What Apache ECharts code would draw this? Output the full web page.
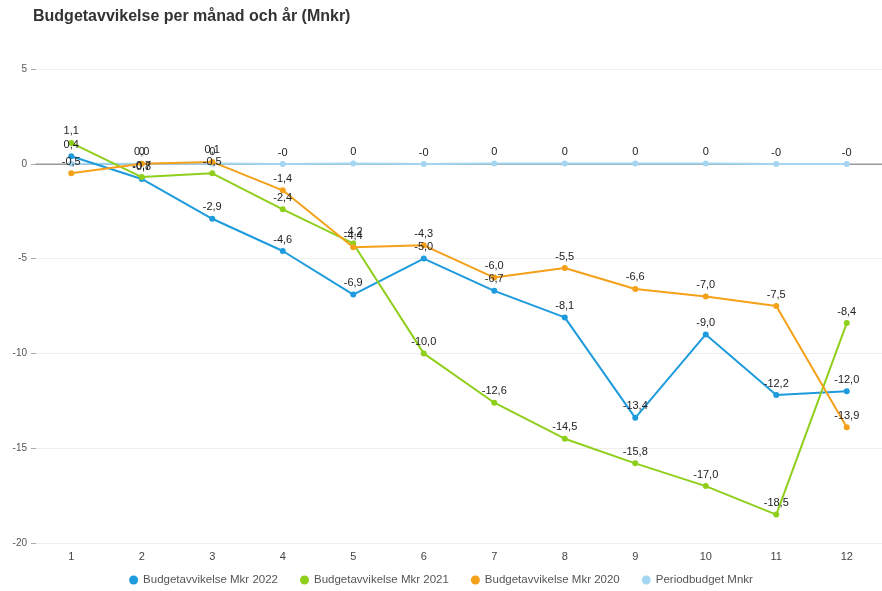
<!DOCTYPE html>
<html>
<head>
<meta charset="utf-8">
<script src="https://cdn.jsdelivr.net/npm/echarts@6/dist/echarts.min.js"></script>
<style>
html,body{margin:0;padding:0;background:#fff;}
#chart{width:882px;height:591px;}
</style>
</head>
<body>
<div id="chart"></div>
<script>
// Months
const months = ['1','2','3','4','5','6','7','8','9','10','11','12'];

// Budget deviation per month (Mkr)
const avvikelse2022 = [0.4, -0.8, -2.9, -4.6, -6.9, -5.0, -6.7, -8.1, -13.4, -9.0, -12.2, -12.0];
const avvikelse2021 = [1.1, -0.7, -0.5, -2.4, -4.2, -10.0, -12.6, -14.5, -15.8, -17.0, -18.5, -8.4];
const avvikelse2020 = [-0.5, 0.0, 0.1, -1.4, -4.4, -4.3, -6.0, -5.5, -6.6, -7.0, -7.5, -13.9];
const periodbudget = [0.0, 0.0, 0.01, -0.01, 0.01, -0.01, 0.01, 0.01, 0.01, 0.01, -0.01, -0.01];

// Value axis ticks
const yTicks = { min: -20, max: 5, interval: 5 };

const fmt1 = v => v.toFixed(1).replace('.', ',');
const fmt0 = v => v.toFixed(0);

function lineSeries(name, data, color, formatter, z) {
  return {
    name: name,
    type: 'line',
    data: data,
    symbol: 'circle',
    symbolSize: 6,
    z: z,
    lineStyle: { width: 2, color: color },
    itemStyle: { color: color },
    label: {
      show: true,
      position: 'top',
      distance: 3,
      color: '#222',
      fontSize: 11,
      fontFamily: 'Liberation Sans, Arial, sans-serif',
      formatter: p => (p.dataIndex === 0 && formatter === fmt0) ? '' : formatter(p.value)
    }
  };
}

const chart = echarts.init(document.getElementById('chart'));
chart.setOption({
  animation: false,
  title: {
    text: 'Budgetavvikelse per månad och år (Mnkr)',
    left: 28,
    top: 4,
    textStyle: { fontSize: 16, fontWeight: 'bold', color: '#333', fontFamily: 'Liberation Sans, Arial, sans-serif' }
  },
  legend: {
    bottom: 0,
    left: 'center',
    itemGap: 22,
    icon: 'circle',
    itemWidth: 9,
    itemHeight: 9,
    textStyle: { fontSize: 11.5, color: '#555', fontFamily: 'Liberation Sans, Arial, sans-serif' }
  },
  grid: { left: 36, top: 69, width: 853, height: 474 },
  xAxis: {
    type: 'category',
    data: months,
    boundaryGap: true,
    axisLine: { lineStyle: { color: '#bbb', width: 1.5 } },
    axisTick: { alignWithLabel: true, length: 4, lineStyle: { color: '#999' } },
    axisLabel: { color: '#444', fontSize: 11, margin: 8, fontFamily: 'Liberation Sans, Arial, sans-serif' }
  },
  yAxis: {
    type: 'value',
    min: yTicks.min,
    max: yTicks.max,
    interval: yTicks.interval,
    axisLine: { show: false },
    axisTick: { show: true, length: 5, lineStyle: { color: '#aaa' } },
    axisLabel: { color: '#555', fontSize: 10, margin: 9, fontFamily: 'Liberation Sans, Arial, sans-serif' },
    splitLine: { lineStyle: { color: '#eee' } }
  },
  color: ['#1e9bdc', '#8fcf1c', '#f5a01a', '#a4d6f2'],
  series: [
    Object.assign(lineSeries('Budgetavvikelse Mkr 2022', avvikelse2022, '#1e9bdc', fmt1, 4), {
      markLine: {
        silent: true,
        symbol: 'none',
        label: { show: false },
        lineStyle: { color: '#999', type: 'solid', width: 1 },
        data: [{ yAxis: 0 }],
        z: 1
      }
    }),
    lineSeries('Budgetavvikelse Mkr 2021', avvikelse2021, '#8fcf1c', fmt1, 4),
    lineSeries('Budgetavvikelse Mkr 2020', avvikelse2020, '#f5a01a', fmt1, 4),
    lineSeries('Periodbudget Mnkr', periodbudget, '#a4d6f2', fmt0, 3)
  ]
});
</script>
</body>
</html>
